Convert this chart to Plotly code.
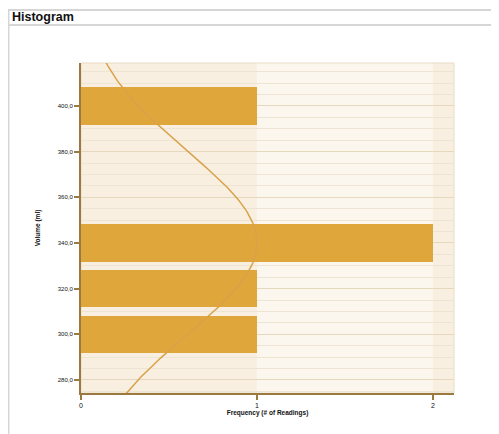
import numpy as np
import plotly.graph_objects as go

# Data
bin_centers = [280, 300, 320, 340, 360, 380, 400]
counts = [0, 1, 1, 2, 0, 0, 1]
y_ticks = [280, 300, 320, 340, 360, 380, 400]
x_ticks = [0, 1, 2]

# Fitted normal curve parameters
curve_mean = 340.0
curve_sd = 40.0
curve_peak = 1.0

bar_color = "#dfa63b"
axis_color = "#9a7a40"

cy = np.linspace(274, 419, 200)
cx = curve_peak * np.exp(-((cy - curve_mean) ** 2) / (2 * curve_sd ** 2))

fig = go.Figure()
fig.add_trace(go.Bar(
    x=counts, y=bin_centers, orientation="h", width=16.3,
    marker=dict(color=bar_color, line=dict(width=0)),
    hoverinfo="skip",
))
fig.add_trace(go.Scatter(
    x=cx, y=cy, mode="lines",
    line=dict(color="#d9a24a", width=1.5),
    hoverinfo="skip",
))

shapes = [
    # darker vertical bands
    dict(type="rect", xref="x", yref="paper", x0=0, x1=1, y0=0, y1=1,
         fillcolor="#f8efe1", line=dict(width=0), layer="below"),
    dict(type="rect", xref="x", yref="paper", x0=2, x1=2.12, y0=0, y1=1,
         fillcolor="#f8efe1", line=dict(width=0), layer="below"),
    # plot border
    dict(type="rect", xref="paper", yref="paper", x0=0, x1=1, y0=0, y1=1,
         line=dict(color="#e8dcc4", width=1), layer="below"),
    # panel header lines
    dict(type="line", xref="paper", yref="paper", x0=-0.196, x1=1.2, y0=1.1606, y1=1.1606,
         line=dict(color="#d6d6d6", width=2)),
    dict(type="line", xref="paper", yref="paper", x0=-0.196, x1=1.2, y0=1.115, y1=1.115,
         line=dict(color="#d6d6d6", width=2)),
    dict(type="line", xref="paper", yref="paper", x0=-0.1944, x1=-0.1944, y0=-0.13, y1=1.1606,
         line=dict(color="#d6d6d6", width=2)),
]

fig.update_layout(
    width=499, height=434,
    margin=dict(l=73, r=53, t=55, b=49),
    paper_bgcolor="white",
    plot_bgcolor="#fbf7ef",
    separators=",.",
    showlegend=False,
    bargap=0,
    shapes=shapes,
    font=dict(family="Liberation Sans, Arial, sans-serif", color="#111"),
    annotations=[dict(
        text="<b>Histogram</b>", xref="paper", yref="paper",
        x=-0.19, y=1.1385, xanchor="left", yanchor="middle",
        showarrow=False, font=dict(size=12.5, color="#111"),
    )],
    xaxis=dict(
        range=[0, 2.12], tickvals=x_ticks, ticktext=[str(v) for v in x_ticks],
        showgrid=False, zeroline=False,
        showline=True, linecolor=axis_color, linewidth=2,
        ticks="outside", ticklen=5, tickcolor=axis_color, tickwidth=1.5,
        tickfont=dict(size=7, color="#111"),
        title=dict(text="<b>Frequency (# of Readings)</b>", font=dict(size=6.5), standoff=2),
    ),
    yaxis=dict(
        range=[274.3, 418.8], tickvals=y_ticks, tickformat=".1f",
        showgrid=True, gridcolor="#e6d8bd", gridwidth=1,
        minor=dict(dtick=5, tick0=0, showgrid=True, gridcolor="#eee4d2", gridwidth=1),
        zeroline=False,
        showline=True, linecolor=axis_color, linewidth=2,
        ticks="outside", ticklen=5, tickcolor=axis_color, tickwidth=1.5,
        tickfont=dict(size=6, color="#111"),
        title=dict(text="<b>Volume (ml)</b>", font=dict(size=6.5), standoff=17),
    ),
)

fig.write_html("out.html")
